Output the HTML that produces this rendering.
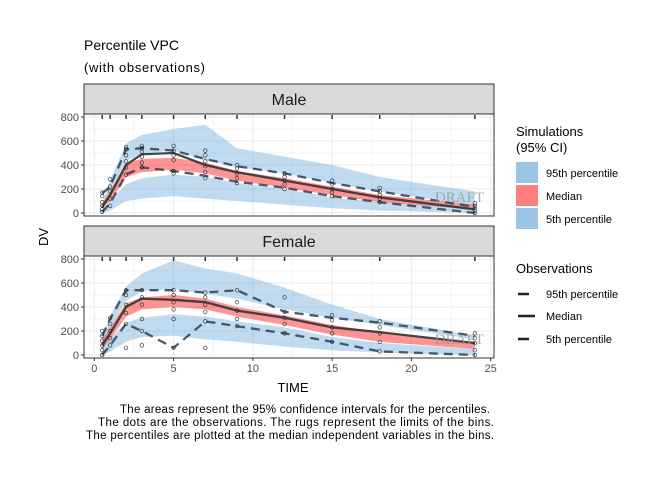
<!DOCTYPE html>
<html><head><meta charset="utf-8"><style>
body{margin:0;background:#fff}
svg{display:block;font-family:"Liberation Sans",sans-serif}
</style></head><body>
<svg id="c" width="672" height="480" viewBox="0 0 672 480">
<text x="84" y="50" font-size="14" fill="#000">Percentile VPC</text>
<text x="84" y="72" font-size="13" fill="#000" textLength="121">(with observations)</text>
<g id="panels"></g>
<text x="293" y="392" font-size="13" text-anchor="middle">TIME</text>
<text x="48" y="237" font-size="13" text-anchor="middle" transform="rotate(-90 48 237)">DV</text>
<g font-size="11.5" fill="#000">
<text x="120" y="413" textLength="370">The areas represent the 95% confidence intervals for the percentiles.</text>
<text x="98" y="426" textLength="396">The dots are the observations. The rugs represent the limits of the bins.</text>
<text x="86" y="439" textLength="408">The percentiles are plotted at the median independent variables in the bins.</text>
</g>
<g>
<text x="516" y="136" font-size="13">Simulations</text>
<text x="516" y="152" font-size="13">(95% CI)</text>
<rect x="516" y="162" width="22" height="21" fill="#9cc5e5"/>
<rect x="516" y="185" width="22" height="21" fill="#ff7f7f"/>
<rect x="516" y="208" width="22" height="21" fill="#9cc5e5"/>
<text x="546" y="177" font-size="11">95th percentile</text>
<text x="546" y="200" font-size="11">Median</text>
<text x="546" y="223" font-size="11">5th percentile</text>
<text x="516" y="273" font-size="13">Observations</text>
<line x1="518" y1="294" x2="529" y2="294" stroke="#222" stroke-width="2.5"/>
<line x1="518" y1="316" x2="535" y2="316" stroke="#222" stroke-width="2.5"/>
<line x1="518" y1="339" x2="529" y2="339" stroke="#222" stroke-width="2.5"/>
<text x="546" y="298" font-size="11">95th percentile</text>
<text x="546" y="320" font-size="11">Median</text>
<text x="546" y="343" font-size="11">5th percentile</text>
</g>
</svg>
<script>
const bins=[0.5,1,2,3,5,7,9,12,15,18,24];
const rugs=[0.5,1,2,3,5,7,9,12,15,18,24];
const xTicks=[0,5,10,15,20,25];
const yTicks=[0,200,400,600,800];
// Male
const mP95Lo=[60,180,430,500,520,440,380,330,250,180,60];
const mP95Hi=[80,275,580,650,700,735,540,470,400,300,180];
const mP50Lo=[40,100,300,340,360,330,270,210,150,90,30];
const mP50Hi=[80,180,420,450,460,420,350,290,220,150,70];
const mP5Lo=[0,20,100,120,140,120,100,70,40,20,0];
const mP5Hi=[30,100,240,290,320,300,250,200,130,90,40];
const mObs95=[164,220,530,540,520,450,390,330,250,180,50];
const mObs50=[50,150,400,490,500,400,340,270,200,130,30];
const mObs5=[10,80,320,380,350,310,260,210,140,90,0];
const mObs=[[10,30,60,90,140,170],[60,120,180,220,280],[320,380,430,480,530,550],[380,420,470,510,540,560],[330,350,440,480,520,560],[290,340,390,430,480,520],[250,290,330,370,400],[200,240,270,300,330],[140,170,200,240,270],[90,120,150,180,210],[0,20,40,60,80]];
// Female
const fP95Lo=[80,220,450,530,550,510,470,380,310,250,130];
const fP95Hi=[160,330,570,680,790,720,680,560,420,300,160];
const fP50Lo=[50,130,320,380,400,380,320,250,170,110,50];
const fP50Hi=[120,230,430,480,500,470,400,330,250,190,100];
const fP5Lo=[0,30,110,150,160,130,110,70,40,20,0];
const fP5Hi=[60,140,270,310,340,320,280,230,150,100,50];
const fObs95=[160,300,540,540,540,520,540,360,310,270,160];
const fObs50=[80,180,400,470,460,440,370,310,230,190,100];
const fObs5=[0,80,260,200,60,280,240,180,110,30,0];
const fObs=[[0,40,80,120,160,200],[80,140,200,260,310],[60,260,350,420,500,540],[80,200,300,420,480,540],[60,300,380,440,500,540],[60,280,360,420,480,520],[240,300,370,440,540],[180,260,310,360,480],[110,180,230,290,330],[30,110,180,230,280],[0,40,100,140,180]];

const NS="http://www.w3.org/2000/svg";
const root=document.getElementById('panels');
function mk(tag,attrs,parent){const e=document.createElementNS(NS,tag);for(const k in attrs)e.setAttribute(k,attrs[k]);parent.appendChild(e);return e;}
const X0=84,X1=494;
function sx(v){return 94.3+v*(490.7-94.3)/25;}
function band(lo,hi,sy,fill,op,g,name){
  let d='M'+bins.map((b,i)=>sx(b)+','+sy(hi[i])).join('L');
  for(let i=bins.length-1;i>=0;i--)d+='L'+sx(bins[i])+','+sy(lo[i]);
  const p=mk('path',{d:d+'Z',fill:fill,'fill-opacity':op},g);
  
  
}
function line(vals,sy,g,dash,name,w){
  const p=mk('path',{d:'M'+bins.map((b,i)=>sx(b)+','+sy(vals[i])).join('L'),fill:'none',stroke:dash?'#2b3f52':'#333',
    'stroke-opacity':dash?0.85:0.9,'stroke-width':w,'stroke-dasharray':dash?'9,6':'none'},g);
  
  
}
function panel(label,top,d,key){
  const g=mk('g',{},root);
  
  
  const st=mk('rect',{x:X0,y:top,width:X1-X0,height:30,fill:'#d9d9d9',stroke:'#333','stroke-width':1},g);
  
  
  const t=mk('text',{x:(X0+X1)/2,y:top+21,'font-size':16,'text-anchor':'middle',fill:'#1a1a1a'},g);t.textContent=label;
  
  
  const pt=top+30,pb=pt+102;
  const y0=pt+99,y800=pt+3;
  const sy=v=>y0-(v/800)*(y0-y800);
  for(let v=0;v<=800;v+=100){mk('line',{x1:X0,x2:X1,y1:sy(v),y2:sy(v),stroke:'#ebebeb','stroke-width':v%200==0?1:0.5},g);}
  for(let v=0;v<=25;v+=2.5){mk('line',{x1:sx(v),x2:sx(v),y1:pt,y2:pb,stroke:'#ebebeb','stroke-width':v%5==0?1:0.5},g);}
  band(d.p95lo,d.p95hi,sy,'#3a8fd1',0.32,g,key+'-p95-ci');
  band(d.p5lo,d.p5hi,sy,'#3a8fd1',0.32,g,key+'-p5-ci');
  band(d.p50lo,d.p50hi,sy,'#ff0000',0.42,g,key+'-median-ci');
  line(d.o95,sy,g,true,key+'-obs-p95',2.3);
  line(d.o5,sy,g,true,key+'-obs-p5',2.3);
  line(d.o50,sy,g,false,key+'-obs-median',2.3);
  d.obs.forEach((arr,i)=>arr.forEach(v=>{
    const c=mk('circle',{cx:sx(bins[i]),cy:sy(v),r:1.8,fill:'none',stroke:'#222','stroke-width':0.6},g);
    
    
  }));
  rugs.forEach(r=>{mk('line',{x1:sx(r),x2:sx(r),y1:pt+1,y2:pt+5,stroke:'#333','stroke-width':1.5},g);});
  const dr=mk('text',{x:484,y:sy(90),'font-size':15,'font-family':'Liberation Serif,serif','text-anchor':'end',fill:'#999','fill-opacity':0.8},g);dr.textContent='DRAFT';
  
  
  mk('rect',{x:X0,y:pt,width:X1-X0,height:pb-pt,fill:'none',stroke:'#333','stroke-width':1},g);
  yTicks.forEach(v=>{
    mk('line',{x1:X0-3,x2:X0,y1:sy(v),y2:sy(v),stroke:'#333'},g);
    const tt=mk('text',{x:X0-5,y:sy(v)+4,'font-size':11,'text-anchor':'end',fill:'#4d4d4d'},g);tt.textContent=v;
    
    
  });
  return pb;
}
panel('Male',84,{p95lo:mP95Lo,p95hi:mP95Hi,p50lo:mP50Lo,p50hi:mP50Hi,p5lo:mP5Lo,p5hi:mP5Hi,o95:mObs95,o50:mObs50,o5:mObs5,obs:mObs},'male');
const pb=panel('Female',226,{p95lo:fP95Lo,p95hi:fP95Hi,p50lo:fP50Lo,p50hi:fP50Hi,p5lo:fP5Lo,p5hi:fP5Hi,o95:fObs95,o50:fObs50,o5:fObs5,obs:fObs},'female');
xTicks.forEach(v=>{
  mk('line',{x1:sx(v),x2:sx(v),y1:pb,y2:pb+3,stroke:'#333'},root);
  const t=mk('text',{x:sx(v),y:pb+14,'font-size':11,'text-anchor':'middle',fill:'#4d4d4d'},root);t.textContent=v;
  
  
});
</script>
</body></html>
